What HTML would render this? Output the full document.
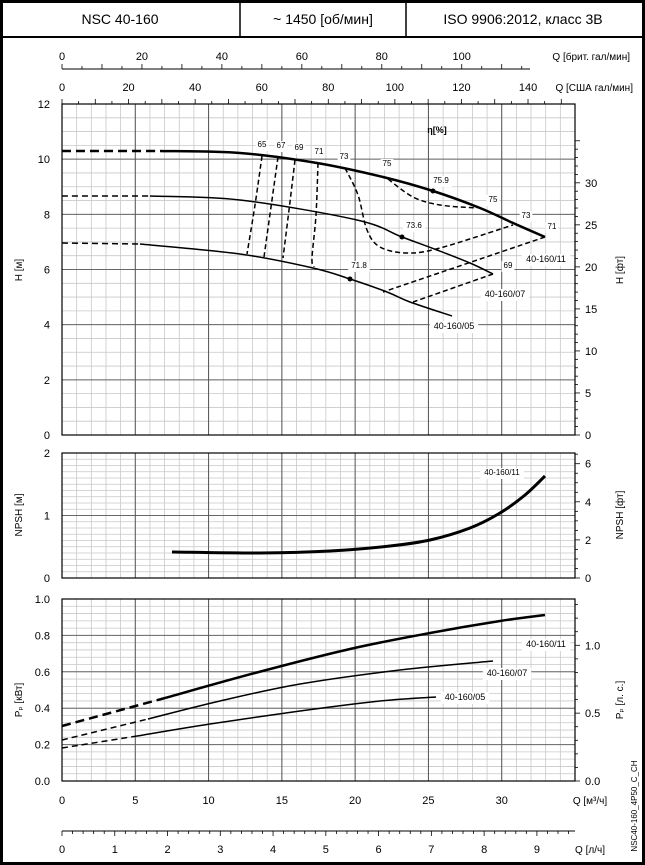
<!DOCTYPE html>
<html><head><meta charset="utf-8"><style>
html,body{margin:0;padding:0;background:#fff}
svg{display:block;font-family:"Liberation Sans","DejaVu Sans",sans-serif}
</style></head><body>
<svg id="s" width="645" height="865" viewBox="0 0 645 865" xmlns="http://www.w3.org/2000/svg">
<rect x="1.5" y="1.5" width="642" height="862" fill="#fff" stroke="#000" stroke-width="3"/>
<line x1="0" y1="37" x2="645" y2="37" stroke="#000" stroke-width="2"/>
<line x1="240" y1="0" x2="240" y2="37" stroke="#000" stroke-width="1.5"/>
<line x1="406" y1="0" x2="406" y2="37" stroke="#000" stroke-width="1.5"/>
<text x="120" y="24" font-size="14" text-anchor="middle">NSC 40-160</text>
<text x="323" y="24" font-size="14" text-anchor="middle">~ 1450 [об/мин]</text>
<text x="523" y="24" font-size="14" text-anchor="middle">ISO 9906:2012, класс 3B</text>
<g id="g"></g>
</svg>
<script>
var NS="http://www.w3.org/2000/svg",G=document.getElementById('g');
function el(t,a,txt){var e=document.createElementNS(NS,t);for(var k in a)e.setAttribute(k,a[k]);if(txt!==undefined)e.textContent=txt;G.appendChild(e);return e;}
function L(x1,y1,x2,y2,c,w,d){var a={x1:x1,y1:y1,x2:x2,y2:y2,stroke:c,'stroke-width':w};if(d)a['stroke-dasharray']=d;el('line',a);}
function T(x,y,s,fs,anc,extra){var a={x:x,y:y,'font-size':fs||11,'text-anchor':anc||'middle'};for(var k in extra)a[k]=extra[k];return el('text',a,s);}
function C(pts,w,d){
 var s='M'+pts[0][0]+','+pts[0][1];
 for(var i=0;i<pts.length-1;i++){var p0=pts[i-1]||pts[i],p1=pts[i],p2=pts[i+1],p3=pts[i+2]||p2;
  s+=' C'+(p1[0]+(p2[0]-p0[0])/6)+','+(p1[1]+(p2[1]-p0[1])/6)+' '+(p2[0]-(p3[0]-p1[0])/6)+','+(p2[1]-(p3[1]-p1[1])/6)+' '+p2[0]+','+p2[1];}
 var a={d:s,fill:'none',stroke:'#000','stroke-width':w};if(d)a['stroke-dasharray']=d;el('path',a);}
var X0=62,X1=575,sx=(X1-X0)/35;
function X(q){return X0+q*sx;}
function panel(yt,yb,vmax,minorStep,majorStep){
 var sy=(yb-yt)/vmax;
 for(var v=0;v<=vmax+1e-9;v+=minorStep){var y=yb-v*sy;L(X0,y,X1,y,'#c8c8c8',0.8);}
 for(var q=1;q<35;q++){L(X(q),yt,X(q),yb,'#c8c8c8',0.8);}
 for(var v=majorStep;v<vmax-1e-9;v+=majorStep){var y=yb-v*sy;L(X0,y,X1,y,'#666',1);}
 for(var q=5;q<35;q+=5){L(X(q),yt,X(q),yb,'#555',1);}
 el('rect',{x:X0,y:yt,width:X1-X0,height:yb-yt,fill:'none',stroke:'#000','stroke-width':1.2});
}
// H panel
panel(104,435,12,0.5,2);
[0,2,4,6,8,10,12].forEach(function(v){T(50,435-v*27.58+4,String(v),11,'end');});
for(var f=0;f<=35;f+=1){var y=435-f*0.3048*27.58;if(y<104)break;L(X1,y,X1+(f%5?3:5),y,'#000',0.8);}
[0,5,10,15,20,25,30].forEach(function(f){T(585,435-f*0.3048*27.58+4,String(f),11,'start');});
T(0,0,'H [м]',10,'middle',{transform:'translate(22,270) rotate(-90)'});
T(0,0,'H [фт]',10,'middle',{transform:'translate(623,270) rotate(-90)'});
// top axes
L(X0,69,530,69,'#000',1);
for(var b=0;b<=115;b+=5){var x=X0+b*1.2009*0.2271*sx;if(x>530)break;L(x,69,x,b%10?66:64,'#000',0.8);}
[0,20,40,60,80,100].forEach(function(b){T(X0+b*1.2009*0.2271*sx,60,String(b),11);});
T(630,60,'Q [брит. гал/мин]',10,'end');
for(var u=0;u<=150;u+=5){var x=X0+u*0.2271*sx;if(x>X1)break;L(x,104,x,u%10?101:99,'#000',0.8);}
[0,20,40,60,80,100,120,140].forEach(function(u){T(X0+u*0.2271*sx,91,String(u),11);});
T(633,91,'Q [США гал/мин]',10,'end');
// H curves
C([[62,151],[160,151]],2.5,'9,5');
C([[160,151],[240,153],[317,163],[383,177],[433,191],[480,208],[513,223],[545,237]],2.5);
C([[62,196],[150,196]],1.5,'6,4');
C([[150,196],[240,200],[357,220],[402,237],[437,250],[470,263],[493,274]],1.5);
C([[62,243],[140,244]],1.5,'6,4');
C([[140,244],[240,254],[313,268],[350,279],[387,292],[410,302],[452,316]],1.5);
var dd='5,3';
C([[262,156],[255,205],[247,254]],1.5,dd);
C([[278,157],[271,207],[264,257]],1.5,dd);
C([[295,160],[289,210],[283,258]],1.5,dd);
C([[318,163],[316,215],[312,258],[314,267]],1.5,dd);
C([[345,168],[358,195],[367,230],[380,247],[407,253],[440,248],[513,225]],1.5,dd);
C([[388,179],[413,197],[440,205],[477,208]],1.5,dd);
C([[545,237],[383,292]],1.5,dd);
C([[493,274],[413,302]],1.5,dd);
[[433,191],[402,237],[350,279]].forEach(function(p){el('circle',{cx:p[0],cy:p[1],r:2.5,fill:'#000'});});
function lab(x,y,s,fs){var w=s.length*(fs*0.55)+4;el('rect',{x:x-w/2,y:y-fs+1,width:w,height:fs+3,fill:'#fff'});T(x,y,s,fs);}
[[262,147,'65'],[281,148,'67'],[299,150,'69'],[319,154,'71'],[344,159,'73'],[387,166,'75'],[441,183,'75.9'],[493,202,'75'],[526,218,'73'],[552,229,'71'],[414,228,'73.6'],[359,268,'71.8'],[508,268,'69']].forEach(function(a){lab(a[0],a[1],a[2],8);});
T(437,133,'η[%]',9,'middle',{'font-weight':'bold'});
lab(546,262,'40-160/11',9);lab(505,297,'40-160/07',9);lab(454,329,'40-160/05',9);
// NPSH
panel(453,578,2,0.1,1);
[0,1,2].forEach(function(v){T(50,578-v*62.5+4,String(v),11,'end');});
for(var f=0;f<=6.5;f+=0.5){var y=578-f*0.3048*62.5;L(X1,y,X1+(f%2?3:5),y,'#000',0.8);}
[0,2,4,6].forEach(function(f){T(585,578-f*0.3048*62.5+4,String(f),11,'start');});
T(0,0,'NPSH [м]',10,'middle',{transform:'translate(22,515) rotate(-90)'});
T(0,0,'NPSH [фт]',10,'middle',{transform:'translate(623,515) rotate(-90)'});
C([[172,552],[260,553],[330,551],[390,546],[430,540],[470,528],[500,513],[525,495],[545,476]],3);
lab(502,475,'40-160/11',8);
// Power
panel(599,781,1,0.04,0.2);
[0,0.2,0.4,0.6,0.8,1.0].forEach(function(v){T(50,781-v*182+4,v.toFixed(1),11,'end');});
for(var h=0;h<=1.3;h+=0.1){var y=781-h*0.7457*182;if(y<599)break;L(X1,y,X1+(Math.round(h*10)%5?3:5),y,'#000',0.8);}
[0,0.5,1.0].forEach(function(h){T(585,781-h*0.7457*182+4,h.toFixed(1),11,'start');});
T(0,0,'Pₚ [кВт]',10,'middle',{transform:'translate(22,700) rotate(-90)'});
T(0,0,'Pₚ [л. с.]',10,'middle',{transform:'translate(623,700) rotate(-90)'});
C([[62,726],[165,698]],2.5,'9,5');
C([[165,698],[255,673],[350,649],[430,633],[500,621],[545,615]],2.5);
C([[62,740],[148,719]],1.5,'6,4');
C([[148,719],[220,701],[300,684],[400,670],[493,661]],1.5);
C([[62,748],[137,736]],1.5,'6,4');
C([[137,736],[210,724],[300,711],[380,701],[436,697]],1.5);
lab(546,647,'40-160/11',9);lab(507,676,'40-160/07',9);lab(465,700,'40-160/05',9);
// bottom axes
[0,5,10,15,20,25,30].forEach(function(q){T(X(q),804,String(q),11);});
T(590,804,'Q [м³/ч]',10,'middle');
L(X0,831,X1,831,'#000',1);
for(var l=0;l<=9.7;l+=0.2){var x=X0+l*3.6*sx;if(x>X1)break;L(x,831,x,Math.round(l*10)%10?834:836,'#000',0.8);}
for(var l=0;l<=9;l++){T(X0+l*3.6*sx,838+15,String(l),11);}
T(590,853,'Q [л/ч]',10,'middle');
T(0,0,'NSC40-160_4P50_C_CH',8,'middle',{transform:'translate(637,806) rotate(-90)'});
</script>
</body></html>
